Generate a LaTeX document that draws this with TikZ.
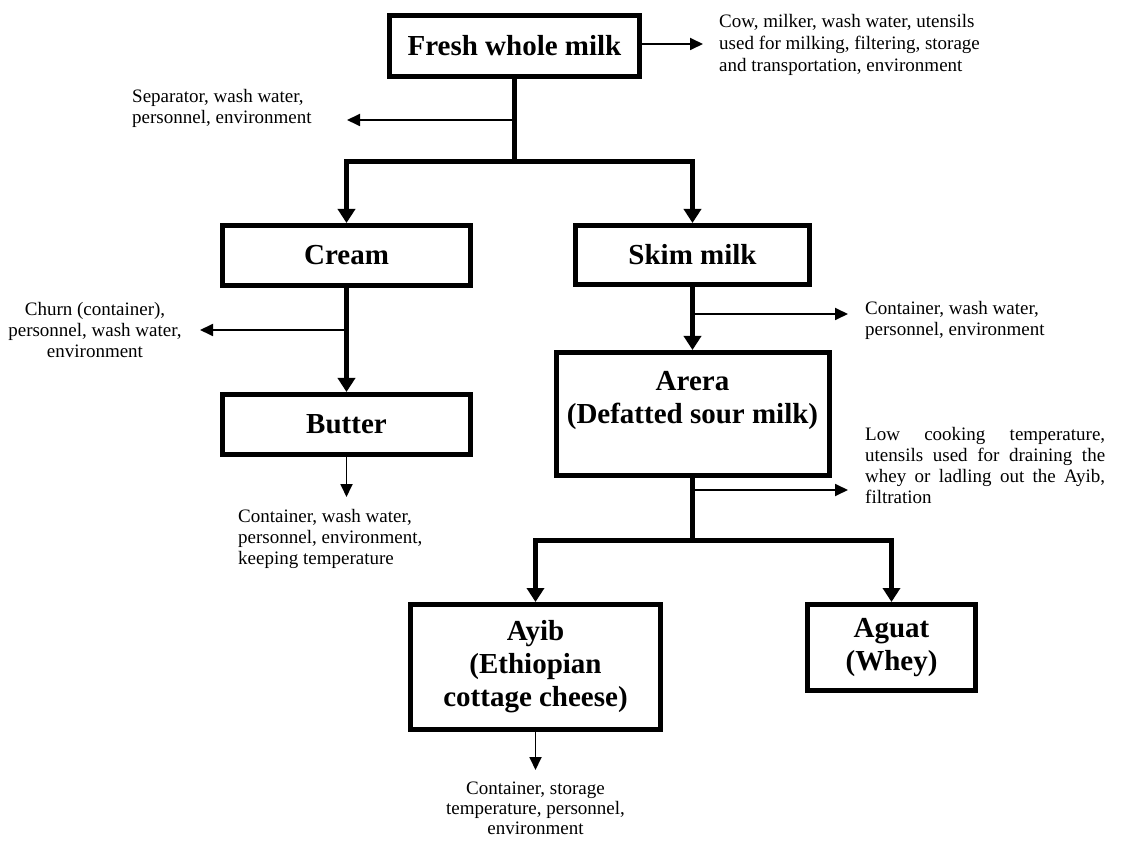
\documentclass[tikz,border=0pt]{standalone}
\usepackage{fontspec}
\setmainfont{Liberation Serif}
\usetikzlibrary{arrows.meta}
\tikzset{
  procbox/.style={draw, line width=5pt, inner sep=0pt, align=center,
    font=\fontsize{29}{33}\selectfont\bfseries},
  note/.style={inner sep=0pt, font=\fontsize{19}{21}\selectfont},
  mainline/.style={line width=5pt},
  mainarrow/.style={line width=5pt, -{Triangle[length=14pt,width=17pt]}},
  sidearrow/.style={line width=1.8pt, -{Triangle[length=13pt,width=12pt]}}
}
\begin{document}
\begin{tikzpicture}[x=1pt,y=-1pt]
\useasboundingbox (0,0) rectangle (1133,842);
% boxes
\node[procbox, minimum width=250pt, minimum height=61pt] (fresh) at (514.5,46) {Fresh whole milk};
\node[procbox, minimum width=248pt, minimum height=60pt] (cream) at (346.5,255.5) {Cream};
\node[procbox, minimum width=234pt, minimum height=59pt] (skim) at (692.5,255) {Skim milk};
\node[procbox, minimum width=248pt, minimum height=60pt] (butter) at (346.5,424.5) {Butter};
\node[procbox, minimum width=273pt, minimum height=123pt] (arera) at (692.5,414) {Arera\\(Defatted sour milk)\\\mbox{}};
\node[procbox, minimum width=250pt, minimum height=125pt] (ayib) at (535.5,667) {Ayib\\(Ethiopian\\cottage cheese)};
\node[procbox, minimum width=168pt, minimum height=86pt] (aguat) at (891.5,647.5) {Aguat\\(Whey)};
% notes
\node[note, anchor=west, align=left, font=\fontsize{19}{22}\selectfont] (cow) at (719,45) {Cow, milker, wash water, utensils\\used for milking, filtering, storage\\and transportation, environment};
\node[note, anchor=west, align=left] (sep) at (132,108) {Separator, wash water,\\personnel, environment};
\node[note, align=center] (churn) at (95,330) {Churn (container),\\personnel, wash water,\\environment};
\node[note, anchor=west, align=left] (contb) at (238,539) {Container, wash water,\\personnel, environment,\\keeping temperature};
\node[note, anchor=west, align=left] (conts) at (865,320) {Container, wash water,\\personnel, environment};
\node[note, anchor=west, align=left] (low) at (865,466) {\makebox[240pt][s]{Low cooking temperature,}\\\makebox[240pt][s]{utensils used for draining the}\\\makebox[240pt][s]{whey or ladling out the Ayib,}\\filtration};
\node[note, align=center, font=\fontsize{19}{20}\selectfont] (conta) at (535.5,808) {Container, storage\\temperature, personnel,\\environment};
% junction coordinates
\coordinate (j1) at (514.5,162);
\coordinate (j2) at (692.5,540);
\coordinate (s1) at (514.5,120);
\coordinate (s1t) at (347,120);
\coordinate (s0t) at (703,44);
\coordinate (s2) at (346.5,330);
\coordinate (s2t) at (200,330);
\coordinate (s3t) at (346.5,497);
\coordinate (s4) at (692.5,314);
\coordinate (s4t) at (848,314);
\coordinate (s5) at (692.5,490);
\coordinate (s5t) at (848,490);
\coordinate (s6t) at (535.5,770);
% main connectors
\draw[mainline] (fresh.south) -- (j1);
\draw[mainarrow] (j1) -| (cream.north);
\draw[mainarrow] (j1) -| (skim.north);
\draw[mainarrow] (cream.south) -- (butter.north);
\draw[mainarrow] (skim.south) -- (arera.north);
\draw[mainline] (arera.south) -- (j2);
\draw[mainarrow] (j2) -| (ayib.north);
\draw[mainarrow] (j2) -| (aguat.north);
% side arrows
\draw[sidearrow] (fresh.east |- s0t) -- (s0t);
\draw[sidearrow] (s1) -- (s1t);
\draw[sidearrow] (s2) -- (s2t);
\draw[sidearrow] (butter.south) -- (s3t);
\draw[sidearrow] (s4) -- (s4t);
\draw[sidearrow] (s5) -- (s5t);
\draw[sidearrow] (ayib.south) -- (s6t);
\end{tikzpicture}
\end{document}
